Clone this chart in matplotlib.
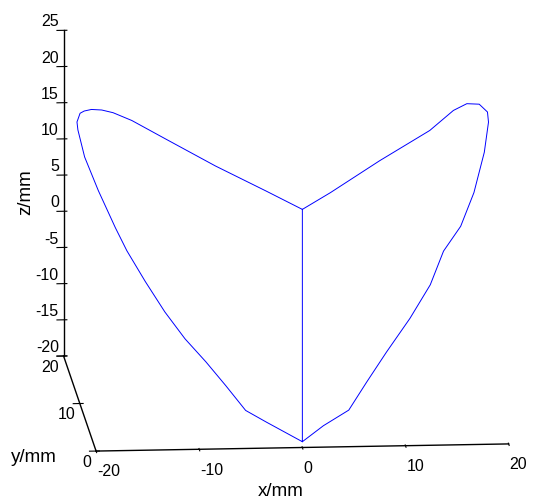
import numpy as np
import matplotlib.pyplot as plt

plt.rcParams['font.family'] = ['Liberation Sans', 'DejaVu Sans']
plt.rcParams['axes.unicode_minus'] = False

# curve vertices (mm)
xs = [0, 0, -3.3, -5.2, -6.9, -8.6, -10.4, -12.1, -13.7, -15.2, -16.1, -17.4, -18.4, -18.8,
      -18.7, -18.4, -18.0, -17.3, -16.3, -15.2, -13.7, -11.0, -7.0, -2.9, 0,
      3.3, 9.1, 15.0, 17.8, 19.1, 20.3, 21.1, 21.2,
      20.4, 19.0, 17.4, 15.5, 13.9, 11.6, 9.0, 6.8, 4.8, 2.2, 0]
ys = [0, 0, 1.2, 1.9, 3.4, 4.8, 6.2, 7.8, 9.7, 11.5, 12.9, 15.1, 17.2, 18.8,
      20, 20, 20, 20, 20, 20, 18.0, 14.5, 9.1, 3.8, 0,
      3.7, 10.2, 16.8, 20, 20, 20, 20, 20,
      17.5, 15.0, 13.0, 11.5, 9.5, 7.4, 5.4, 3.6, 1.9, 1.0, 0]
zs = [12.9, -19.2, -17.2, -16.0, -13.5, -11.1, -8.8, -6.1, -3.1, 0.0, 2.3, 6.0, 9.3, 12.0,
      12.3, 13.5, 13.8, 14.0, 13.9, 13.5, 13.7, 13.4, 13.1, 13.0, 12.9,
      12.7, 12.7, 12.4, 13.0, 13.9, 13.8, 12.7, 11.3,
      8.8, 4.9, 1.6, -0.8, -4.1, -7.3, -10.6, -13.5, -16.2, -17.7, -19.2]

xticks = [-20, -10, 0, 10, 20]
yticks = [0, 10, 20]
zticks = [-20, -15, -10, -5, 0, 5, 10, 15, 20, 25]

fig = plt.figure(figsize=(5.33, 5.04), dpi=100)
ax = fig.add_axes([0.024, 0.016, 1, 1], projection='3d')
ax.set_proj_type('ortho')

ax.plot(xs, ys, zs, color='blue', lw=0.7)

ax.set_xlim(-20, 20)
ax.set_ylim(0, 20)
ax.set_zlim(-20, 25)
ax.set_xticks(xticks)
ax.set_yticks(yticks)
ax.set_zticks(zticks)
ax.tick_params(labelsize=11.5)
ax.tick_params(axis='x', pad=-2)
ax.tick_params(axis='y', pad=-6)
ax.tick_params(axis='z', pad=-6)
for lbl in ax.get_xticklabels():
    lbl.set_ha('left')
for lbl in ax.get_yticklabels():
    lbl.set_ha('right')
for lbl in ax.get_zticklabels():
    lbl.set_ha('right')
    lbl.set_va('bottom')

# axis titles placed the way MATLAB put them (figure pixels)
W, H = 533, 504
fig.text(281 / W, 1 - 492 / H, 'x/mm', fontsize=13.5, ha='center', va='center')
fig.text(34 / W, 1 - 458 / H, 'y/mm', fontsize=13.5, ha='center', va='center')
fig.text(26 / W, 1 - 192 / H, 'z/mm', fontsize=13.5, ha='center', va='center', rotation=90)

ax.grid(False)
for axis in (ax.xaxis, ax.yaxis, ax.zaxis):
    axis.set_pane_color((1, 1, 1, 0))
    axis.pane.set_edgecolor('none')
    axis.line.set_color('black')
    axis.line.set_linewidth(1.0)

ax.set_box_aspect((411, 421, 332), zoom=1.31)
ax.view_init(elev=13, azim=-94.4)

fig.savefig('out.png', dpi=100)
